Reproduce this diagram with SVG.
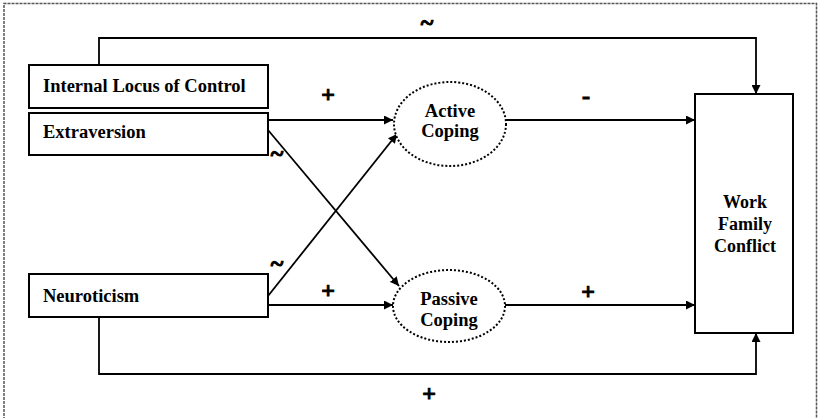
<svg xmlns="http://www.w3.org/2000/svg" width="818" height="418" viewBox="0 0 818 418">
<defs>
<marker id="ah" viewBox="0 0 10 10" refX="10" refY="5" markerWidth="9" markerHeight="9" markerUnits="userSpaceOnUse" orient="auto">
<path d="M0,0 L10,5 L0,10 z" fill="#000"/>
</marker>
<style>
.box{fill:#fff;stroke:#000;stroke-width:2}
.ell{fill:#fff;stroke:#000;stroke-width:2;stroke-dasharray:2 2}
.con{fill:none;stroke:#000;stroke-width:1.8}
.arr{marker-end:url(#ah)}
text{font-family:"Liberation Serif","Times New Roman",serif;font-weight:bold;font-size:18.5px;fill:#000}
.w{font-size:18px}
.sg{font-size:24px;stroke:#000;stroke-width:1}
.c{text-anchor:middle}
</style>
</defs>
<rect x="0" y="0" width="818" height="418" fill="#fff"/>
<path d="M4,424 L4,3.5 L816.5,3.5 L816.5,424" fill="none" stroke="#555" stroke-width="1.5" stroke-dasharray="3 1"/>

<g id="connectors">
<polyline class="con arr" points="99,65 99,38 756,38 756,94"/>
<polyline class="con arr" points="99,317 99,374 756,374 756,333"/>
<line class="con arr" x1="268" y1="120" x2="393" y2="120"/>
<line class="con arr" x1="268" y1="305" x2="393" y2="305"/>
<line class="con arr" x1="506" y1="120" x2="695" y2="120"/>
<line class="con arr" x1="505" y1="305" x2="695" y2="305"/>
<line class="con arr" x1="268" y1="130" x2="399" y2="286"/>
<line class="con arr" x1="268" y1="296" x2="397" y2="134"/>
</g>

<g id="internal-locus">
<rect class="box" x="29" y="65" width="239" height="43"/>
<text x="43" y="92">Internal Locus of Control</text>
</g>
<g id="extraversion">
<rect class="box" x="29" y="113" width="239" height="42"/>
<text x="43" y="138">Extraversion</text>
</g>
<g id="neuroticism">
<rect class="box" x="29" y="274" width="239" height="43"/>
<text x="43" y="302">Neuroticism</text>
</g>
<g id="active-coping">
<ellipse class="ell" cx="450" cy="124" rx="56" ry="42"/>
<text class="c" x="450" y="117">Active</text>
<text class="c" x="450" y="137">Coping</text>
</g>
<g id="passive-coping">
<ellipse class="ell" cx="449" cy="306" rx="56" ry="36"/>
<text class="c" x="449" y="305">Passive</text>
<text class="c" x="449" y="326">Coping</text>
</g>
<g id="work-family-conflict">
<rect class="box" x="695" y="94" width="98" height="239"/>
<text class="c w" x="745" y="208">Work</text>
<text class="c w" x="745" y="230">Family</text>
<text class="c w" x="745" y="252">Conflict</text>
</g>

<g id="labels">
<text class="sg c" x="427" y="30">~</text>
<text class="sg c" x="328" y="102">+</text>
<text class="sg c" x="586" y="104">-</text>
<text class="sg c" x="277" y="161">~</text>
<text class="sg c" x="277" y="271">~</text>
<text class="sg c" x="328" y="298">+</text>
<text class="sg c" x="588" y="299">+</text>
<text class="sg c" x="429" y="401">+</text>
</g>
</svg>
